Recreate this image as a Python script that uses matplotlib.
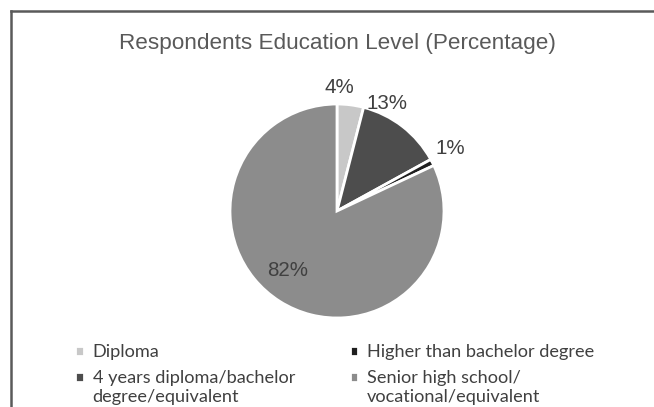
import numpy as np
import matplotlib.pyplot as plt
from matplotlib.lines import Line2D

# education level shares, in clockwise order from 12 o'clock
levels = ['Diploma',
          '4 years diploma/bachelor\ndegree/equivalent',
          'Higher than bachelor degree',
          'Senior high school/\nvocational/equivalent']
shares = [4, 13, 1, 82]
colors = ['#c8c8c8', '#4d4d4d', '#1f1f1f', '#8c8c8c']

# label placement: distance from centre (in radii) and angular nudge (deg)
label_dist = [1.15, 1.11, 1.21, 0.72]
label_nudge = [6, 13, 2, -7]

fig = plt.figure(figsize=(6.54, 4.07), dpi=100)

# chart frame (only top and left edges visible)
fig.add_artist(Line2D([11 / 654, 1.0], [1 - 11 / 407, 1 - 11 / 407],
                      transform=fig.transFigure, color='#5a5a5a', lw=1.8))
fig.add_artist(Line2D([11 / 654, 11 / 654], [0.0, 1 - 11 / 407],
                      transform=fig.transFigure, color='#5a5a5a', lw=1.8))

fig.text(337 / 654, 1 - 43 / 407, 'Respondents Education Level (Percentage)',
         ha='center', va='center', fontsize=16.2, color='#595959',
         family='Liberation Sans')

r_px = 107
cx, cy = 337, 211
ax = fig.add_axes([(cx - r_px) / 654, (407 - cy - r_px) / 407,
                   2 * r_px / 654, 2 * r_px / 407])
wedges, _ = ax.pie(shares, colors=colors, startangle=90, counterclock=False,
                   radius=1, wedgeprops=dict(edgecolor='white', linewidth=2))
ax.set_xlim(-1, 1)
ax.set_ylim(-1, 1)
ax.axis('off')

for w, s, d, n in zip(wedges, shares, label_dist, label_nudge):
    ang = np.deg2rad((w.theta1 + w.theta2) / 2 + n)
    ax.text(d * np.cos(ang), d * np.sin(ang), f'{s}%', ha='center',
            va='center', fontsize=14.8, color='#404040',
            family='Liberation Sans', clip_on=False)

leg = fig.legend(wedges, levels, ncol=2, loc='upper left',
                 bbox_to_anchor=(59 / 654, 1 - 328 / 407), frameon=False,
                 prop=dict(family='Lato', size=13.1), handlelength=0.45,
                 handleheight=0.45, handletextpad=0.5, columnspacing=3.0,
                 labelspacing=0.55)
for t in leg.get_texts():
    t.set_color('#404040')
# keep the swatch beside the first line of two-line entries
for h, name in zip(leg.legend_handles, levels):
    if '\n' in name:
        h.set_y(h.get_y() + 7.5)

fig.savefig('out.png', dpi=100)
